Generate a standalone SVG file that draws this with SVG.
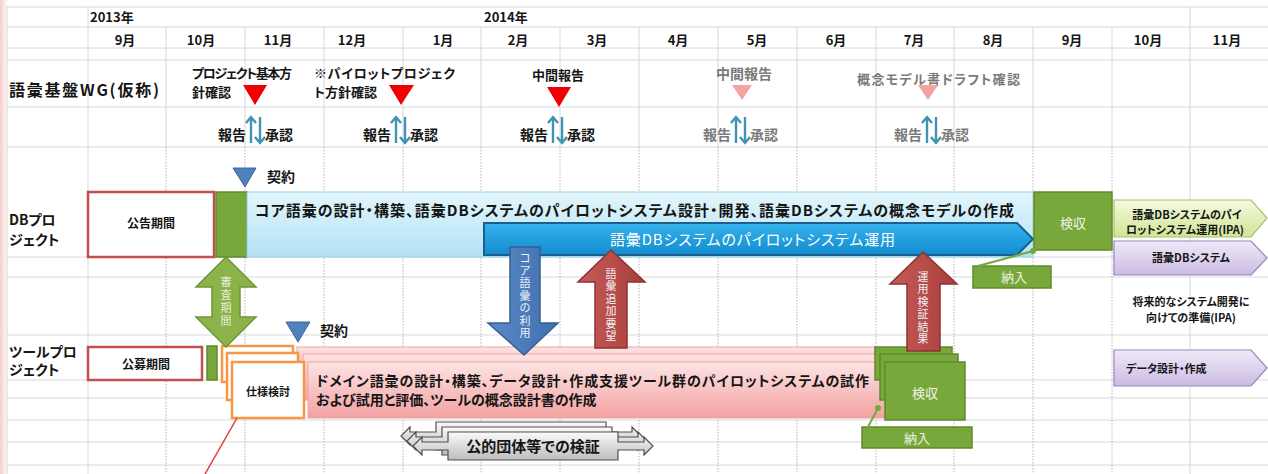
<svg xmlns="http://www.w3.org/2000/svg" width="1268" height="474" viewBox="0 0 1268 474">
<defs>
<linearGradient id="gStripe" x1="0" y1="0" x2="1" y2="0"><stop offset="0" stop-color="#f7cccc"/><stop offset="1" stop-color="#ffffff"/></linearGradient>
<linearGradient id="gCyan" x1="0" y1="0" x2="0" y2="1"><stop offset="0" stop-color="#e3f6fc"/><stop offset="1" stop-color="#b2e2f4"/></linearGradient>
<linearGradient id="gBlue" x1="0" y1="0" x2="0" y2="1"><stop offset="0" stop-color="#36b2ec"/><stop offset="1" stop-color="#128ccf"/></linearGradient>
<linearGradient id="gPink" x1="0" y1="0" x2="0" y2="1"><stop offset="0" stop-color="#fde4e4"/><stop offset="1" stop-color="#f3a1a1"/></linearGradient>
<linearGradient id="gLime" x1="0" y1="0" x2="0" y2="1"><stop offset="0" stop-color="#f5fae0"/><stop offset="1" stop-color="#cfe595"/></linearGradient>
<linearGradient id="gLav" x1="0" y1="0" x2="0" y2="1"><stop offset="0" stop-color="#f0e9f8"/><stop offset="1" stop-color="#cbbbe3"/></linearGradient>
<linearGradient id="gGray" x1="0" y1="0" x2="0" y2="1"><stop offset="0" stop-color="#fbfbfb"/><stop offset="1" stop-color="#bcbcbc"/></linearGradient>
<linearGradient id="gRed" x1="0" y1="0" x2="1" y2="0"><stop offset="0" stop-color="#c75a57"/><stop offset="1" stop-color="#a83f3c"/></linearGradient>
<linearGradient id="gBlueA" x1="0" y1="0" x2="1" y2="0"><stop offset="0" stop-color="#5a8ac6"/><stop offset="1" stop-color="#3f6fb0"/></linearGradient>
</defs>
<style>
.grid{stroke:#d8d8d8;stroke-width:1;fill:none}
.gridd{stroke:#b4b4b4;stroke-width:1;stroke-dasharray:1.5 1.5;fill:none}
.t{font-family:"Noto Sans CJK JP","Liberation Sans",sans-serif;font-weight:bold;fill:#151515;font-feature-settings:"palt"}
.gray{fill:#7a7a7a}
.c{text-anchor:middle}
.e{text-anchor:end}
.lt{fill:#eef3e4;font-weight:normal}
.vt{font-family:"Noto Sans CJK JP",sans-serif;font-size:11px;fill:#eef2f8;text-anchor:middle}
.box{fill:#ffffff;stroke:#c0504d;stroke-width:2.5}
.grn{fill:#78a83c;stroke:#5f8a2b;stroke-width:1.5}
.org{fill:#ffffff;stroke:#f79646;stroke-width:2.5}
.pink{fill:url(#gPink);stroke:#eda3a3;stroke-width:1}
.ra{stroke:#3f93b3;stroke-width:2.4;fill:none}
.rtri{fill:#f00000}
.ptri{fill:#f4a3a3}
.btri{fill:#4f81bd;stroke:#3b679c;stroke-width:1}
.gcall{fill:url(#gGray);stroke:#505050;stroke-width:1.2}
</style>
<rect x="0" y="0" width="1268" height="474" fill="#ffffff"/>
<rect x="0" y="0" width="8" height="474" fill="url(#gStripe)"/>
<g id="grid">
<path class="grid" d="M7,7H1268M7,27H1268M7,48H1268M7,60H1268M7,107H1268M7,147H1268M7,257H1268M7,277H1268M7,335H1268M7,380H1268M7,398H1268M7,420H1268M7,442H1268M7,465H1268"/>
<path class="grid" d="M7,7V474M88,7V474M1190,7V474M166,27V147M245,27V147M324,27V147M403,27V147M481,27V147M560,27V147M639,27V147M718,27V147M797,27V147M876,27V147M954,27V147M1033,27V147M1112,27V147"/>
<path class="gridd" d="M166,147V474M245,147V474M324,147V474M403,147V474M481,147V474M560,147V474M639,147V474M718,147V474M797,147V474M876,147V474M954,147V474M1033,147V474M1112,147V474"/>
</g>
<g id="header" class="t" font-size="13">
<text x="90" y="22">2013年</text>
<text x="484" y="22">2014年</text>
<text class="c" x="125" y="45">9月</text>
<text class="c" x="201" y="45">10月</text>
<text class="c" x="278" y="45">11月</text>
<text class="c" x="352" y="45">12月</text>
<text class="c" x="443" y="45">1月</text>
<text class="c" x="518" y="45">2月</text>
<text class="c" x="597" y="45">3月</text>
<text class="c" x="678" y="45">4月</text>
<text class="c" x="757" y="45">5月</text>
<text class="c" x="836" y="45">6月</text>
<text class="c" x="914" y="45">7月</text>
<text class="c" x="993" y="45">8月</text>
<text class="c" x="1072" y="45">9月</text>
<text class="c" x="1148" y="45">10月</text>
<text class="c" x="1227" y="45">11月</text>
</g>
<g id="wg-label"><text class="t" x="9" y="96" font-size="16" textLength="150">語彙基盤WG(仮称)</text></g>
<g id="ms1">
<text class="t" x="192" y="78" font-size="13" textLength="100">プロジェクト基本方</text>
<text class="t" x="192" y="97" font-size="13">針確認</text>
<polygon class="rtri" points="243,85 267,85 255,105"/>
</g>
<g id="ms2">
<text class="t" x="314" y="78" font-size="13" textLength="141">※パイロットプロジェク</text>
<text class="t" x="314" y="97" font-size="13">ト方針確認</text>
<polygon class="rtri" points="389,85 414,85 401,105"/>
</g>
<g id="ms3">
<text class="t c" x="558" y="80" font-size="13">中間報告</text>
<polygon class="rtri" points="547,87 571,87 559,107"/>
</g>
<g id="ms4">
<text class="t c gray" x="744" y="79" font-size="14">中間報告</text>
<polygon class="ptri" points="732,85 752,85 742,100"/>
</g>
<g id="ms5">
<text class="t gray" x="857" y="84" font-size="13" textLength="163">概念モデル書ドラフト確認</text>
<polygon class="ptri" points="918,85 938,85 928,100"/>
</g>
<g id="report1"><text class="t e" x="246" y="140" font-size="14">報告</text><path class="ra" d="M251,143V117M246,123L251,117L256,123M260,117V143M255,137L260,143L265,137"/><text class="t" x="265" y="140" font-size="14">承認</text></g>
<g id="report2"><text class="t e" x="391" y="140" font-size="14">報告</text><path class="ra" d="M396,143V117M391,123L396,117L401,123M405,117V143M400,137L405,143L410,137"/><text class="t" x="410" y="140" font-size="14">承認</text></g>
<g id="report3"><text class="t e" x="548" y="140" font-size="14">報告</text><path class="ra" d="M553,143V117M548,123L553,117L558,123M562,117V143M557,137L562,143L567,137"/><text class="t" x="567" y="140" font-size="14">承認</text></g>
<g id="report4"><text class="t e gray" x="731" y="140" font-size="14">報告</text><path class="ra" d="M736,143V117M731,123L736,117L741,123M745,117V143M740,137L745,143L750,137"/><text class="t gray" x="750" y="140" font-size="14">承認</text></g>
<g id="report5"><text class="t e gray" x="922" y="140" font-size="14">報告</text><path class="ra" d="M927,143V117M922,123L927,117L932,123M936,117V143M931,137L936,143L941,137"/><text class="t gray" x="941" y="140" font-size="14">承認</text></g>
<g id="contract1"><polygon class="btri" points="233,168 256,168 245,187"/><text class="t" x="267" y="182" font-size="14">契約</text></g>
<g id="contract2"><polygon class="btri" points="286,322 310,322 298,342"/><text class="t" x="320" y="336" font-size="14">契約</text></g>
<g id="db-label" class="t" font-size="14"><text x="9" y="225">DBプロ</text><text x="9" y="245">ジェクト</text></g>
<g id="db-koukoku"><rect class="box" x="88" y="192" width="126" height="65"/><text class="t c" x="151" y="228" font-size="12">公告期間</text></g>
<g id="db-greenbar"><rect class="grn" x="216" y="192" width="31" height="65"/></g>
<g id="db-main"><rect x="247" y="192" width="786" height="65" fill="url(#gCyan)" stroke="#8fd0ea" stroke-width="1"/><text class="t" x="255" y="216" font-size="15" textLength="759">コア語彙の設計・構築、語彙DBシステムのパイロットシステム設計・開発、語彙DBシステムの概念モデルの作成</text></g>
<g id="db-pilot"><polygon points="484,223 1017,223 1033,239 1017,255 484,255" fill="url(#gBlue)" stroke="#1a5f8e" stroke-width="2"/><text class="t" x="610" y="245" font-size="15" style="font-weight:normal;fill:#ffffff" textLength="285">語彙DBシステムのパイロットシステム運用</text></g>
<g id="db-kenshu"><rect class="grn" x="1034" y="192" width="78" height="58"/><text class="t c lt" x="1073" y="228" font-size="13">検収</text></g>
<g id="db-nounyu"><rect class="grn" x="973" y="266" width="78" height="22"/><text class="t c lt" x="1014" y="282" font-size="13">納入</text></g>
<g id="r-ipa"><polygon points="1114,200 1251,200 1267,218 1251,237 1114,237" fill="url(#gLime)" stroke="#a6c46a" stroke-width="1.2"/><text class="t c" x="1187" y="219" font-size="11">語彙DBシステムのパイ</text><text class="t c" x="1185" y="234" font-size="11">ロットシステム運用(IPA)</text></g>
<g id="r-dbsys"><polygon points="1114,241 1251,241 1267,258 1251,275 1114,275" fill="url(#gLav)" stroke="#9a84c0" stroke-width="1.2"/><text class="t c" x="1191" y="262" font-size="11">語彙DBシステム</text></g>
<g id="r-future"><text class="t c" x="1191" y="306" font-size="11">将来的なシステム開発に</text><text class="t c" x="1191" y="322" font-size="11">向けての準備(IPA)</text></g>
<g id="r-data"><polygon points="1114,350 1251,350 1267,368 1251,386 1114,386" fill="url(#gLav)" stroke="#9a84c0" stroke-width="1.2"/><text class="t" x="1126" y="373" font-size="11">データ設計・作成</text></g>
<g id="tool-label" class="t" font-size="14"><text x="9" y="357">ツールプロ</text><text x="9" y="375">ジェクト</text></g>
<g id="tool-koubo"><rect class="box" x="88" y="347" width="114" height="33"/><text class="t c" x="146" y="369" font-size="12">公募期間</text></g>
<g id="tool-greenbar"><rect class="grn" x="207" y="346" width="10" height="34"/></g>
<g id="tool-pink"><rect class="pink" x="297" y="347" width="578" height="33"/><rect class="pink" x="303" y="354" width="578" height="46"/><rect class="pink" x="308" y="362" width="577" height="56" stroke="#e89a9a"/>
<text class="t" x="316" y="386" font-size="14" textLength="553">ドメイン語彙の設計・構築、データ設計・作成支援ツール群のパイロットシステムの試作</text>
<text class="t" x="316" y="405" font-size="14">および試用と評価、ツールの概念設計書の作成</text></g>
<g id="tool-shiyou"><rect class="org" x="222" y="346" width="71" height="36"/><rect class="org" x="227" y="353" width="71" height="47"/><rect class="org" x="232" y="362" width="72" height="56"/><text class="t c" x="268" y="396" font-size="11">仕様検討</text></g>
<g id="tool-kenshu"><rect class="grn" x="875" y="347" width="77" height="33"/><rect class="grn" x="880" y="354" width="78" height="46"/><rect class="grn" x="885" y="362" width="80" height="58"/><text class="t c lt" x="925" y="398" font-size="13">検収</text></g>
<g id="tool-nounyu"><rect class="grn" x="862" y="427" width="110" height="21"/><text class="t c lt" x="917" y="443" font-size="13">納入</text></g>
<g id="public-verify">
<path class="gcall" d="M436,422H606V432H632V427L641,436L632,445V440H606V450H436V440H410V445L401,436L410,427V432H436Z"/>
<path class="gcall" d="M442,427H612V437H638V432L647,441L638,450V445H612V455H442V445H416V450L407,441L416,432V437H442Z"/>
<path class="gcall" d="M448,432H618V442H644V437L653,446L644,455V450H618V460H448V450H422V455L413,446L422,437V442H448Z"/>
<text class="t c" x="533" y="452" font-size="15">公的団体等での検証</text>
</g>
<g id="connectors" fill="none">
<path d="M978,266L1033,251" stroke="#78a83c" stroke-width="2"/><circle cx="1033" cy="251" r="3" fill="#78a83c"/>
<path d="M868,427L878,408" stroke="#78a83c" stroke-width="2"/><circle cx="878" cy="408" r="3" fill="#78a83c"/>
<path d="M237,418L205,474" stroke="#e03c3c" stroke-width="1.5"/>
</g>
<g id="arrow-shinsa"><polygon points="226,257 256,287 240,287 240,317 256,317 226,347 196,317 212,317 212,287 196,287" fill="#8cb24a" stroke="#6e9634" stroke-width="1.5"/><text class="vt" x="226 226 226 226" y="286 299 312 325" style="fill:#e6eedb">審査期間</text></g>
<g id="arrow-core"><polygon points="510,247 540,247 540,323 558,323 524,355 488,323 510,323" fill="url(#gBlueA)" stroke="#365f93" stroke-width="1.5"/><text class="vt" x="525 525 525 525 525 525 525" y="262 274.5 287 299.5 312 324.5 337">コア語彙の利用</text></g>
<g id="arrow-request"><polygon points="611,250 645,282 627,282 627,348 595,348 595,282 578,282" fill="url(#gRed)" stroke="#8a3533" stroke-width="1.5"/><text class="vt" x="611 611 611 611 611 611" y="277.5 290 302.5 315 327.5 340">語彙追加要望</text></g>
<g id="arrow-result"><polygon points="923,252 957,284 940,284 940,351 907,351 907,284 890,284" fill="url(#gRed)" stroke="#8a3533" stroke-width="1.5"/><text class="vt" x="923 923 923 923 923 923" y="280.5 293 305.5 318 330.5 343">運用検証結果</text></g>
</svg>
